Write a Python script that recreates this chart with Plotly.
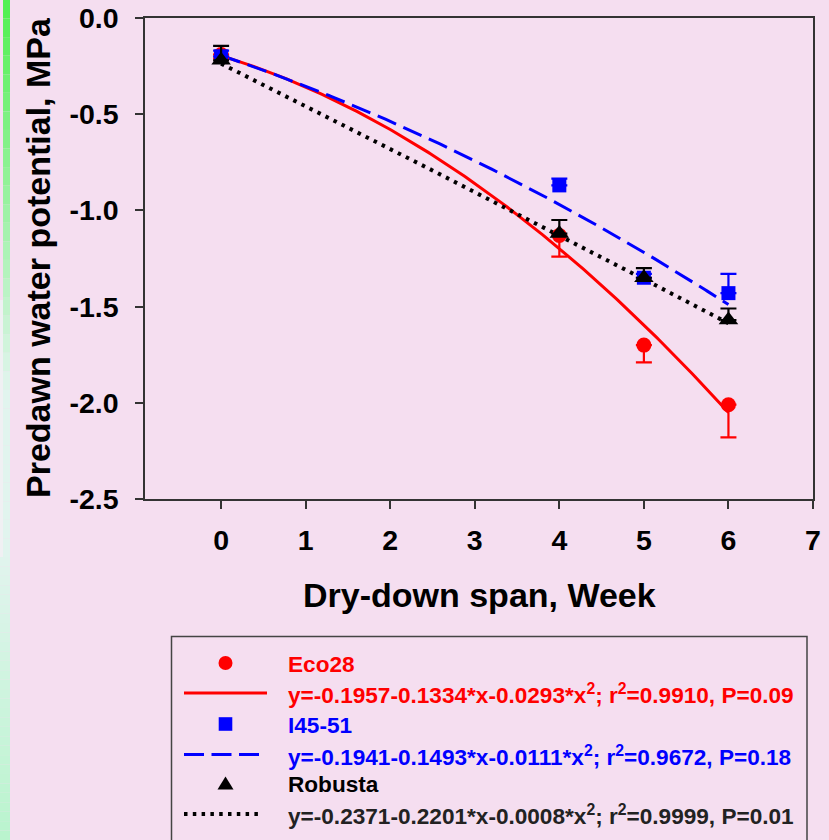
import numpy as np
import plotly.graph_objects as go

# ---------------- data ----------------
weeks = [0, 4, 5, 6]

eco28_mean = [-0.19, -1.13, -1.70, -2.01]
eco28_err_down = [0.02, 0.11, 0.09, 0.17]

i4551_mean = [-0.20, -0.87, -1.35, -1.43]
i4551_err_up = [0.03, 0.035, 0.02, 0.10]

robusta_mean = [-0.22, -1.12, -1.35, -1.57]
robusta_err_up = [0.075, 0.07, 0.05, 0.06]

# quadratic fit coefficients (a, b, c) as printed in the legend
eco28_fit = [-0.1957, -0.1334, -0.0293]
i4551_fit = [-0.1941, -0.1493, -0.0111]
robusta_fit = [-0.2371, -0.2201, -0.0008]
fit_r2 = ["0.9910", "0.9672", "0.9999"]
fit_p = ["0.09", "0.18", "0.01"]
fit_span = [0, 6]

series_names = ["Eco28", "I45-51", "Robusta"]

x_tickvals = [0, 1, 2, 3, 4, 5, 6, 7]
y_tickvals = [0.0, -0.5, -1.0, -1.5, -2.0, -2.5]
y_ticktext = ["0.0", "-0.5", "-1.0", "-1.5", "-2.0", "-2.5"]

x_title = "Dry-down span, Week"
y_title = "Predawn water potential, MPa"

# ---------------- styles ----------------
RED = "#FF0000"
BLUE = "#0000FF"
BLACK = "#000000"
EQ_BLACK = "#222222"
BG = "#F5DEF0"
AX = "#333333"
FONT = "Liberation Sans, Arial, sans-serif"

W, H = 829, 840
L, R, T, B = 145, 16, 18, 341
PW, PH = W - L - R, H - T - B


def px(x):
    return (x - L) / PW


def py(y):
    return (H - B - y) / PH


def eq_label(coef, r2, p):
    a, b, c = coef
    return (f"y={a:.4f}{b:+.4f}*x{c:+.4f}*x<sup>2</sup>; "
            f"r<sup>2</sup>={r2}, P={p}")


fig = go.Figure()

xs = np.linspace(fit_span[0], fit_span[1], 241)
curve_styles = [
    (eco28_fit, RED, "solid", 3),
    (i4551_fit, BLUE, "20px,8px", 3),
    (robusta_fit, BLACK, "3.5px,5.5px", 4),
]
for coef, col, dash, w in curve_styles:
    a, b, c = coef
    fig.add_trace(go.Scatter(
        x=xs, y=a + b * xs + c * xs ** 2, mode="lines",
        line=dict(color=col, dash=dash, width=w),
        showlegend=False, hoverinfo="skip"))

fig.add_trace(go.Scatter(
    x=weeks, y=eco28_mean, mode="markers", name=series_names[0],
    marker=dict(symbol="circle", size=15, color=RED),
    error_y=dict(type="data", symmetric=False,
                 array=[0] * len(weeks), arrayminus=eco28_err_down,
                 color=RED, thickness=2.2, width=8),
    showlegend=False))
fig.add_trace(go.Scatter(
    x=weeks, y=i4551_mean, mode="markers", name=series_names[1],
    marker=dict(symbol="square", size=14, color=BLUE),
    error_y=dict(type="data", symmetric=False,
                 array=i4551_err_up, arrayminus=[0] * len(weeks),
                 color=BLUE, thickness=2.2, width=8),
    showlegend=False))
fig.add_trace(go.Scatter(
    x=weeks, y=robusta_mean, mode="markers", name=series_names[2],
    marker=dict(symbol="triangle-up", size=17, color=BLACK),
    error_y=dict(type="data", symmetric=False,
                 array=robusta_err_up, arrayminus=[0] * len(weeks),
                 color=BLACK, thickness=2.2, width=8),
    showlegend=False))

shapes = []

# decorative green strip at the left edge (gradient approximated by bands)
def lerp(c1, c2, t):
    return tuple(int(round(c1[i] + (c2[i] - c1[i]) * t)) for i in range(3))

n = 30
for i in range(n):
    y0 = 557 * i / n
    y1 = 557 * (i + 1) / n
    t = min(1.0, (i + 0.5) / (n * 0.7))
    c = lerp((80, 240, 80), (225, 244, 238), t)
    shapes.append(dict(type="rect", xref="paper", yref="paper",
                       x0=px(3), x1=px(10), y0=py(y1), y1=py(y0),
                       line=dict(width=0), fillcolor="rgb(%d,%d,%d)" % c,
                       layer="below"))
shapes.append(dict(type="rect", xref="paper", yref="paper",
                   x0=px(0), x1=px(3), y0=py(557), y1=py(300),
                   line=dict(width=0), fillcolor="rgb(240,240,243)",
                   layer="below"))
for i in range(n):
    y0 = 557 + (840 - 557) * i / n
    y1 = 557 + (840 - 557) * (i + 1) / n
    t = (i + 0.5) / n
    c = lerp((225, 244, 238), (185, 244, 205), t)
    shapes.append(dict(type="rect", xref="paper", yref="paper",
                       x0=px(0), x1=px(10), y0=py(y1), y1=py(y0),
                       line=dict(width=0), fillcolor="rgb(%d,%d,%d)" % c,
                       layer="below"))

# manual legend box
shapes.append(dict(type="rect", xref="paper", yref="paper",
                   x0=px(171.5), x1=px(807), y0=py(870), y1=py(636.5),
                   line=dict(color="#444444", width=1.5), fillcolor="rgba(0,0,0,0)"))

row_y = [663, 693, 724, 754.5, 783.5, 814]
sym_x = 225.5
shapes.append(dict(type="circle", xref="paper", yref="paper",
                   x0=px(sym_x - 7), x1=px(sym_x + 7),
                   y0=py(row_y[0] + 7), y1=py(row_y[0] - 7),
                   line=dict(width=0), fillcolor=RED))
shapes.append(dict(type="line", xref="paper", yref="paper",
                   x0=px(184), x1=px(267), y0=py(row_y[1]), y1=py(row_y[1]),
                   line=dict(color=RED, width=3)))
shapes.append(dict(type="rect", xref="paper", yref="paper",
                   x0=px(sym_x - 6.8), x1=px(sym_x + 6.8),
                   y0=py(row_y[2] + 6.8), y1=py(row_y[2] - 6.8),
                   line=dict(width=0), fillcolor=BLUE))
shapes.append(dict(type="line", xref="paper", yref="paper",
                   x0=px(184), x1=px(259), y0=py(row_y[3]), y1=py(row_y[3]),
                   line=dict(color=BLUE, width=3, dash="20px,7.5px")))
tx0, tx1, tym = px(sym_x - 8), px(sym_x + 8), px(sym_x)
ty_top, ty_bot = py(row_y[4] - 7), py(row_y[4] + 6)
shapes.append(dict(type="path", xref="paper", yref="paper",
                   path=f"M {tx0},{ty_bot} L {tx1},{ty_bot} L {tym},{ty_top} Z",
                   line=dict(width=0), fillcolor=BLACK))
shapes.append(dict(type="line", xref="paper", yref="paper",
                   x0=px(184), x1=px(263), y0=py(row_y[5]), y1=py(row_y[5]),
                   line=dict(color=BLACK, width=4, dash="3.5px,5.3px")))

legend_texts = [
    (series_names[0], RED),
    (eq_label(eco28_fit, fit_r2[0], fit_p[0]), RED),
    (series_names[1], BLUE),
    (eq_label(i4551_fit, fit_r2[1], fit_p[1]), BLUE),
    (series_names[2], BLACK),
    (eq_label(robusta_fit, fit_r2[2], fit_p[2]), EQ_BLACK),
]
annotations = []
for (txt, col), yy in zip(legend_texts, row_y):
    annotations.append(dict(
        text=txt, xref="paper", yref="paper", x=px(286), y=py(yy + 1),
        xanchor="left", yanchor="middle", showarrow=False,
        font=dict(family=FONT, size=22.6, color=col, weight="bold")))

annotations.append(dict(
    text=x_title, xref="paper", yref="paper", x=0.5, y=py(595),
    xanchor="center", yanchor="middle", showarrow=False,
    font=dict(family=FONT, size=34, color=BLACK, weight="bold")))
annotations.append(dict(
    text=y_title, xref="paper", yref="paper", x=px(38), y=py(258),
    xanchor="center", yanchor="middle", showarrow=False, textangle=-90,
    font=dict(family=FONT, size=34, color=BLACK, weight="bold")))

axis_common = dict(
    showgrid=False, zeroline=False, showline=True, linecolor=AX,
    linewidth=1.5, mirror=True, ticks="outside", ticklen=8, tickwidth=1.5,
    tickcolor=AX, tickfont=dict(family=FONT, size=28.5, color=BLACK, weight="bold"),
)

fig.update_layout(
    width=W, height=H,
    margin=dict(l=L, r=R, t=T, b=B, autoexpand=False),
    paper_bgcolor=BG, plot_bgcolor=BG,
    showlegend=False,
    xaxis=dict(range=[-0.9, 7], tickvals=x_tickvals, ticklabelstandoff=7,
               **axis_common),
    yaxis=dict(range=[-2.5, 0], tickvals=y_tickvals, ticktext=y_ticktext,
               ticklabelstandoff=11, **axis_common),
    shapes=shapes,
    annotations=annotations,
)

fig.write_html(
    "out.html",
    config={"displayModeBar": False},
    post_script="document.body.style.margin='0';document.body.style.padding='0';"
                "document.body.style.background='" + BG + "';",
)
